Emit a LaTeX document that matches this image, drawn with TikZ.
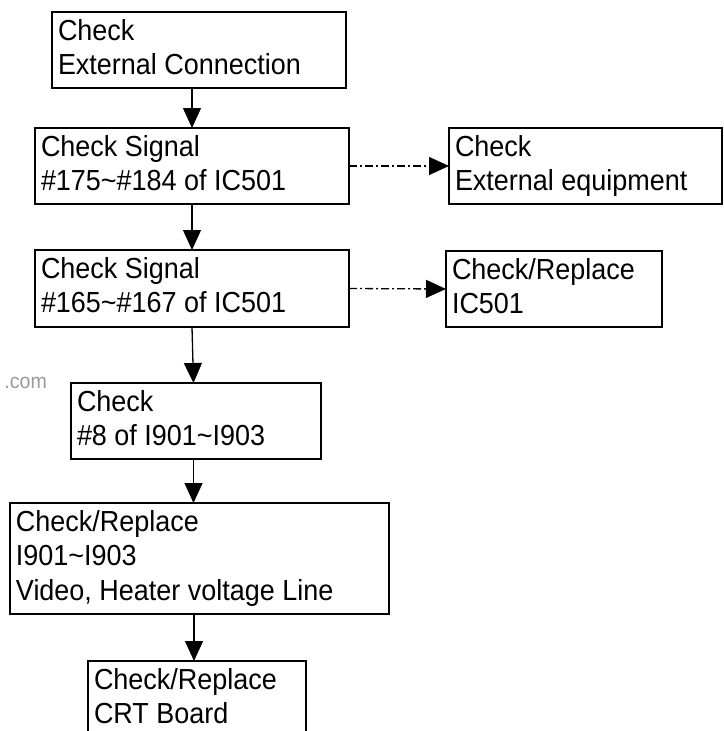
\documentclass[tikz,border=0pt]{standalone}
\usepackage{fontspec}
\setmainfont[FakeStretch=0.93]{Liberation Sans}
\usetikzlibrary{arrows.meta}
\newcommand\boxtxt[3]{\parbox[c][#2][t]{#1}{\raggedright\fontsize{29}{34.5}\selectfont\rule{0pt}{28pt}#3}}
\begin{document}
\begin{tikzpicture}[x=1pt,y=-1pt,
  box/.style={draw, line width=1.3pt, inner xsep=6pt, inner ysep=0pt, anchor=north west, outer sep=0pt},
  flow/.style={line width=1.3pt, -{Triangle[width=18pt,length=20pt]}},
  side/.style={flow, dash pattern=on 8pt off 3pt on 2pt off 3pt}]
\useasboundingbox (0,0) rectangle (723,731);
\node[box] (b1) at (52,12) {\boxtxt{282pt}{76pt}{Check\\External Connection}};
\node[box] (b2) at (35,128) {\boxtxt{302pt}{76pt}{Check Signal\\\#175\textasciitilde\#184 of IC501}};
\node[box] (b3) at (35,250) {\boxtxt{302pt}{77pt}{Check Signal\\\#165\textasciitilde\#167 of IC501}};
\node[box] (ext) at (449,128) {\boxtxt{261pt}{76pt}{Check\\External equipment}};
\node[box] (ic) at (446,251) {\boxtxt{204pt}{76pt}{Check/Replace\\IC501}};
\node[box] (b4) at (71,383) {\boxtxt{238pt}{76pt}{Check\\\#8 of I901\textasciitilde I903}};
\node[box] (b5) at (10,503) {\boxtxt{367pt}{111pt}{Check/Replace\\I901\textasciitilde I903\\Video, Heater voltage Line}};
\node[box] (b6) at (88,661) {\boxtxt{206pt}{76pt}{Check/Replace\\CRT Board}};
\node[anchor=base east, text=black!40, inner sep=0pt, font=\fontsize{21}{21}\selectfont] (wm) at (47,388) {.com};
\coordinate (a1) at (192,0);
\coordinate (a3) at (193.5,0);
\coordinate (a5) at (194,0);
\draw[flow] (a1 |- b1.south) -- (a1 |- b2.north);
\draw[flow] (b2.south) -- (b3.north);
\draw[flow] (b3.south) -- (a3 |- b4.north);
\draw[flow] (a3 |- b4.south) -- (a3 |- b5.north);
\draw[flow] (a5 |- b5.south) -- (a5 |- b6.north);
\draw[side] (b2.east) -- (ext.west);
\draw[side] (b3.east) -- (ic.west);
\end{tikzpicture}
\end{document}
